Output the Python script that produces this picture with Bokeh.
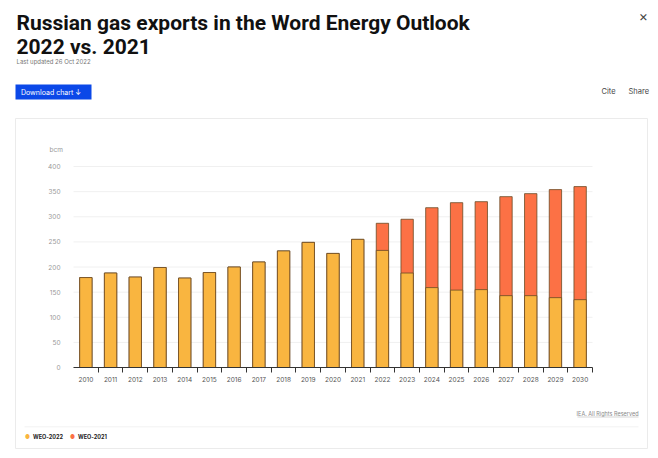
from bokeh.plotting import figure
from bokeh.models import Label, BoxAnnotation, FixedTicker, ColumnDataSource, Range1d
from bokeh.embed import file_html
from bokeh.resources import INLINE

# ---- data ----
years = list(range(2010, 2031))
weo2022 = [179, 188, 180, 199, 178, 189, 200, 210, 232, 249, 227, 255,
           233, 188, 159, 154, 155, 143, 143, 139, 135]
weo2021 = [179, 188, 180, 199, 178, 189, 200, 210, 232, 249, 227, 255,
           287, 295, 318, 328, 330, 340, 346, 354, 360]
y_ticks = [0, 50, 100, 150, 200, 250, 300, 350, 400]
series_names = ["WEO-2022", "WEO-2021"]
colors = ["#F9B540", "#FC7145"]

title_lines = ["Russian gas exports in the Word Energy Outlook", "2022 vs. 2021"]
subtitle = "Last updated 26 Oct 2022"

# ---- layout (canvas pixels) ----
W, H = 658, 458
PL, PR, PT, PB = 73, 592, 166, 367  # plot area edges
FONT = "Inter"
TFONT = "Roboto"

x_lo, x_hi = years[0] - 0.5, years[-1] + 0.5
y_lo, y_hi = y_ticks[0], y_ticks[-1]
kx = (x_hi - x_lo) / (PR - PL)
ky = (y_hi - y_lo) / (PB - PT)
xr = Range1d(x_lo - PL * kx, x_lo - PL * kx + W * kx)
yr = Range1d(y_lo - (H - PB) * ky, y_lo - (H - PB) * ky + H * ky)

p = figure(width=W, height=H, output_backend="svg", toolbar_location=None,
           x_range=xr, y_range=yr, min_border=0,
           min_border_left=0, min_border_right=0, min_border_top=0, min_border_bottom=0,
           background_fill_color="white", border_fill_color="white",
           outline_line_color=None)
p.xgrid.visible = False
p.ygrid.visible = False

# grid lines
p.segment(x0=[x_lo] * len(y_ticks), x1=[x_hi] * len(y_ticks), y0=y_ticks, y1=y_ticks,
          line_color="#f0f0f0", line_width=1)

src = ColumnDataSource(dict(year=years, w22=weo2022, w21=weo2021))
p.vbar(x="year", top="w21", width=0.5, source=src, fill_color=colors[1],
       line_color="#6a4a25", line_width=0.8)
p.vbar(x="year", top="w22", width=0.5, source=src, fill_color=colors[0],
       line_color="#6a4a25", line_width=0.8)

# x axis
xa = p.xaxis[0]
xa.fixed_location = y_lo
xa.bounds = (x_lo, x_hi)
xa.ticker = FixedTicker(ticks=years, minor_ticks=[y + 0.5 for y in years])
xa.major_label_overrides = {y: str(y) for y in years}
xa.major_tick_line_color = None
xa.minor_tick_line_color = "#333333"
xa.minor_tick_in = 0
xa.minor_tick_out = 5
xa.axis_line_color = "#333333"
xa.axis_line_width = 1
xa.major_label_text_font = FONT
xa.major_label_text_font_size = "6.5px"
xa.major_label_text_color = "#555555"
xa.major_label_standoff = 3

ya = p.yaxis[0]
ya.fixed_location = x_lo
ya.bounds = (y_lo, y_hi)
ya.ticker = FixedTicker(ticks=y_ticks)
ya.axis_line_color = None
ya.major_tick_line_color = None
ya.minor_tick_line_color = None
ya.major_label_text_font = FONT
ya.major_label_text_font_size = "6.5px"
ya.major_label_text_color = "#999999"
ya.major_label_standoff = 7


def text(x, y, s, size, color="#222222", style="normal", align="left",
         baseline="middle", font=FONT):
    p.add_layout(Label(x=x, y=H - y, x_units="screen", y_units="screen",
                       text=s, text_font=font, text_font_size=size,
                       text_color=color, text_font_style=style,
                       text_align=align, text_baseline=baseline))


def box(l, t, r, b, fill=None, line=None, lw=1):
    p.add_layout(BoxAnnotation(left=l, right=r, top=H - t, bottom=H - b,
                               left_units="screen", right_units="screen",
                               top_units="screen", bottom_units="screen",
                               fill_color=fill, fill_alpha=1 if fill else 0,
                               line_color=line, line_width=lw, line_alpha=1 if line else 0,
                               level="underlay"))


# card, separator
box(15, 118, 647, 448, line="#ebebeb")
box(24, 426, 638, 426.8, fill="#eeeeee")

# header
text(16, 22.7, title_lines[0], "21px", "#111111", "bold", baseline="alphabetic", font=TFONT)
text(16, 46, title_lines[1], "21px", "#111111", "bold", baseline="alphabetic", font=TFONT)
text(16, 60.5, subtitle, "6px", "#777777")
text(643, 15, "\u00d7", "14px", "#444444", align="center")

box(15, 84, 91, 99, fill="#0b48e8")
text(20.5, 91.5, "Download chart \u2193", "7px", "#ffffff")
text(601, 91, "Cite", "7.5px", "#444444")
text(628, 91, "Share", "7.5px", "#444444")

# chart texts
text(49, 149, "bcm", "6.5px", "#999999")
text(638, 413, "IEA. All Rights Reserved", "5.5px", "#888888", align="right")
box(577, 416.3, 638, 416.8, fill="#aaaaaa")

# legend
lx = [27, 72]
for i in range(2):
    text(lx[i], 436.5, "\u25cf", "5.5px", colors[i], align="center")
    text(lx[i] + 5.5, 436.5, series_names[i], "5.5px", "#222222", "bold")

open("out.html", "w").write(file_html(p, INLINE))
